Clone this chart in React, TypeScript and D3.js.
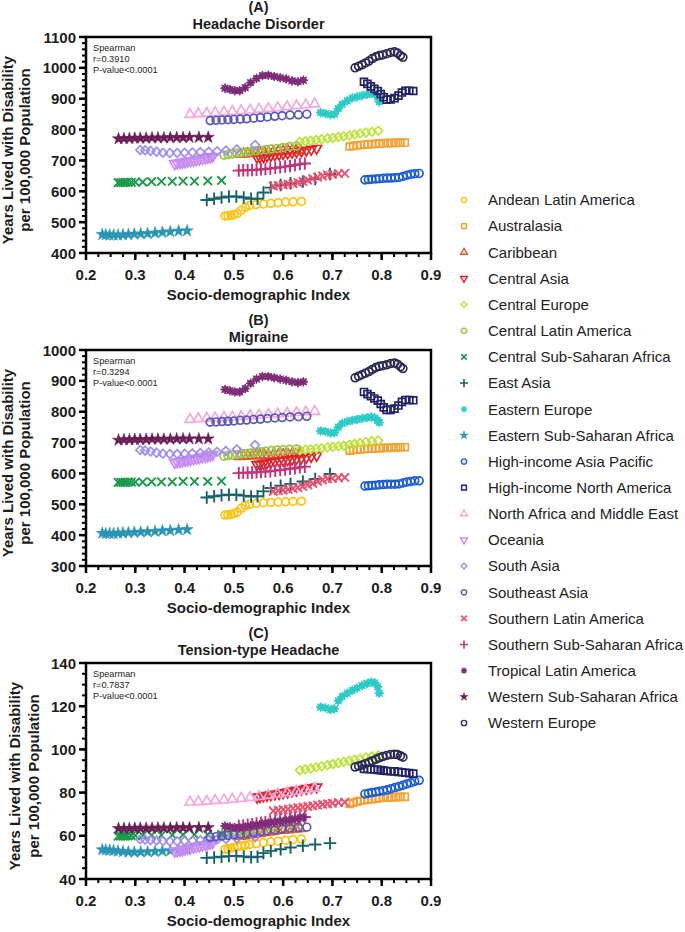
import React from "react";
import * as d3 from "d3";

// ---------- DATA ----------
const REGIONS = [
  "Andean Latin America",
  "Australasia",
  "Caribbean",
  "Central Asia",
  "Central Europe",
  "Central Latin America",
  "Central Sub-Saharan Africa",
  "East Asia",
  "Eastern Europe",
  "Eastern Sub-Saharan Africa",
  "High-income Asia Pacific",
  "High-income North America",
  "North Africa and Middle East",
  "Oceania",
  "South Asia",
  "Southeast Asia",
  "Southern Latin America",
  "Southern Sub-Saharan Africa",
  "Tropical Latin America",
  "Western Sub-Saharan Africa",
  "Western Europe",
];

// Socio-demographic index per region (1990 -> 2019, every other year)
const SDI = [
  [0.482, 0.488, 0.494, 0.5, 0.507, 0.515, 0.523, 0.532, 0.545, 0.56, 0.575, 0.59, 0.605, 0.62, 0.637],
  [0.735, 0.742, 0.75, 0.757, 0.765, 0.772, 0.78, 0.788, 0.795, 0.803, 0.812, 0.82, 0.829, 0.838, 0.847],
  [0.512, 0.52, 0.528, 0.537, 0.545, 0.553, 0.562, 0.57, 0.58, 0.59, 0.6, 0.61, 0.618, 0.626, 0.634],
  [0.547, 0.553, 0.56, 0.567, 0.575, 0.583, 0.592, 0.6, 0.609, 0.618, 0.627, 0.637, 0.647, 0.657, 0.668],
  [0.634, 0.645, 0.656, 0.667, 0.678, 0.69, 0.701, 0.712, 0.723, 0.734, 0.745, 0.756, 0.768, 0.78, 0.793],
  [0.48, 0.488, 0.497, 0.506, 0.515, 0.524, 0.534, 0.544, 0.554, 0.565, 0.576, 0.588, 0.6, 0.613, 0.627],
  [0.265, 0.27, 0.275, 0.28, 0.285, 0.292, 0.3, 0.315, 0.333, 0.353, 0.375, 0.397, 0.42, 0.447, 0.475],
  [0.445, 0.46, 0.475, 0.49, 0.505, 0.52, 0.535, 0.548, 0.56, 0.575, 0.595, 0.615, 0.64, 0.665, 0.695],
  [0.676, 0.686, 0.696, 0.704, 0.712, 0.72, 0.73, 0.74, 0.75, 0.76, 0.77, 0.779, 0.786, 0.792, 0.795],
  [0.233, 0.24, 0.248, 0.256, 0.265, 0.275, 0.286, 0.298, 0.311, 0.325, 0.34, 0.355, 0.371, 0.388, 0.405],
  [0.766, 0.773, 0.78, 0.788, 0.795, 0.803, 0.811, 0.819, 0.827, 0.835, 0.843, 0.851, 0.859, 0.867, 0.876],
  [0.764, 0.771, 0.778, 0.785, 0.792, 0.798, 0.804, 0.81, 0.818, 0.826, 0.834, 0.841, 0.848, 0.856, 0.864],
  [0.411, 0.428, 0.445, 0.462, 0.48, 0.497, 0.515, 0.533, 0.551, 0.57, 0.589, 0.608, 0.627, 0.646, 0.664],
  [0.38, 0.385, 0.391, 0.396, 0.401, 0.406, 0.412, 0.418, 0.424, 0.43, 0.436, 0.442, 0.447, 0.452, 0.457],
  [0.31, 0.32, 0.331, 0.343, 0.356, 0.37, 0.385, 0.4, 0.416, 0.432, 0.449, 0.466, 0.484, 0.506, 0.543],
  [0.452, 0.464, 0.476, 0.488, 0.5, 0.513, 0.526, 0.54, 0.554, 0.568, 0.583, 0.598, 0.614, 0.631, 0.648],
  [0.58, 0.59, 0.6, 0.61, 0.62, 0.63, 0.64, 0.65, 0.66, 0.67, 0.68, 0.69, 0.7, 0.712, 0.725],
  [0.51, 0.519, 0.528, 0.537, 0.546, 0.555, 0.564, 0.574, 0.584, 0.594, 0.604, 0.614, 0.624, 0.634, 0.644],
  [0.482, 0.492, 0.502, 0.512, 0.523, 0.534, 0.546, 0.558, 0.57, 0.582, 0.594, 0.606, 0.618, 0.63, 0.641],
  [0.266, 0.277, 0.288, 0.299, 0.31, 0.322, 0.334, 0.346, 0.358, 0.371, 0.384, 0.397, 0.41, 0.429, 0.448],
  [0.746, 0.753, 0.76, 0.767, 0.774, 0.781, 0.788, 0.795, 0.802, 0.81, 0.818, 0.826, 0.832, 0.838, 0.843],
];

// (A) Headache disorder YLD per 100,000
const HEADACHE = [
  [520, 521, 522, 524, 528, 538, 548, 554, 557, 559, 561, 563, 565, 566, 567],
  [745, 747, 749, 750, 751, 752, 753, 754, 755, 756, 756, 757, 757, 758, 758],
  [720, 721, 722, 723, 724, 725, 726, 727, 728, 729, 730, 731, 732, 733, 734],
  [710, 711, 712, 714, 716, 718, 720, 722, 724, 726, 728, 730, 733, 736, 739],
  [760, 762, 764, 766, 769, 771, 773, 776, 778, 781, 784, 787, 790, 793, 796],
  [717, 719, 721, 723, 725, 727, 729, 731, 733, 735, 737, 739, 742, 745, 747],
  [628, 628, 628, 629, 629, 629, 630, 630, 631, 632, 632, 633, 633, 634, 635],
  [572, 576, 580, 583, 583, 580, 576, 576, 596, 612, 620, 626, 632, 640, 656],
  [855, 852, 848, 850, 868, 882, 893, 902, 906, 910, 914, 917, 915, 905, 890],
  [460, 459, 458, 458, 458, 459, 460, 461, 462, 463, 465, 467, 469, 471, 472],
  [637, 638, 639, 640, 641, 642, 643, 643, 644, 645, 648, 652, 655, 657, 658],
  [955, 948, 940, 932, 925, 915, 905, 897, 898, 902, 910, 920, 926, 926, 925],
  [849, 851, 853, 855, 857, 859, 861, 863, 866, 868, 871, 874, 877, 880, 883],
  [689, 691, 692, 694, 695, 697, 699, 700, 702, 704, 706, 708, 709, 711, 713],
  [734, 733, 731, 728, 725, 724, 724, 725, 726, 727, 728, 730, 732, 736, 750],
  [829, 830, 831, 832, 833, 834, 835, 837, 839, 841, 843, 845, 847, 848, 850],
  [617, 619, 621, 623, 625, 628, 632, 636, 641, 646, 650, 653, 655, 657, 658],
  [667, 668, 668, 669, 670, 671, 672, 674, 676, 678, 680, 682, 685, 688, 690],
  [934, 930, 926, 926, 936, 952, 966, 975, 976, 972, 968, 964, 958, 955, 960],
  [770, 771, 771, 772, 772, 772, 773, 773, 773, 774, 774, 774, 775, 775, 775],
  [1000, 1005, 1010, 1016, 1022, 1030, 1036, 1040, 1042, 1046, 1050, 1052, 1048, 1040, 1034],
];

// (B) Migraine YLD per 100,000
const MIGRAINE = [
  [465, 466, 467, 470, 475, 487, 496, 500, 503, 505, 506, 507, 508, 509, 510],
  [674, 676, 677, 678, 679, 680, 680, 681, 682, 683, 683, 684, 684, 685, 685],
  [655, 656, 657, 657, 658, 658, 659, 659, 660, 660, 661, 661, 662, 662, 663],
  [628, 630, 632, 634, 636, 638, 640, 642, 644, 646, 648, 650, 652, 655, 658],
  [675, 677, 678, 680, 682, 684, 686, 688, 690, 693, 696, 699, 702, 705, 707],
  [656, 658, 659, 661, 663, 664, 666, 668, 670, 672, 674, 676, 677, 678, 679],
  [571, 571, 571, 571, 572, 572, 572, 572, 573, 573, 573, 574, 574, 574, 575],
  [522, 526, 529, 531, 531, 528, 525, 526, 542, 553, 560, 566, 574, 582, 598],
  [738, 736, 731, 732, 750, 762, 768, 772, 775, 778, 781, 783, 780, 772, 765],
  [406, 405, 405, 405, 406, 407, 408, 409, 410, 411, 412, 414, 415, 417, 418],
  [559, 560, 561, 562, 563, 564, 565, 565, 565, 566, 569, 572, 574, 576, 576],
  [864, 857, 850, 843, 836, 825, 814, 806, 806, 810, 820, 832, 838, 838, 837],
  [775, 777, 779, 780, 782, 783, 785, 787, 789, 791, 793, 795, 797, 799, 801],
  [635, 637, 638, 640, 642, 643, 645, 647, 649, 651, 653, 655, 657, 659, 661],
  [676, 674, 671, 667, 664, 663, 663, 664, 665, 666, 668, 670, 673, 678, 692],
  [766, 767, 768, 769, 770, 772, 773, 775, 776, 778, 780, 781, 783, 784, 785],
  [542, 544, 546, 548, 551, 554, 558, 563, 568, 574, 579, 582, 584, 586, 587],
  [601, 602, 602, 603, 604, 605, 606, 607, 609, 611, 613, 615, 617, 620, 622],
  [872, 868, 864, 864, 875, 892, 906, 914, 914, 910, 906, 902, 897, 894, 897],
  [708, 709, 709, 710, 710, 710, 711, 711, 711, 711, 712, 712, 712, 712, 712],
  [910, 915, 920, 925, 930, 937, 943, 947, 949, 952, 956, 958, 954, 946, 940],
];

// (C) Tension-type headache YLD per 100,000
const TENSION = [
  [53.8, 54, 54.3, 54.6, 55, 55.3, 55.6, 56, 56.4, 56.8, 57.2, 57.5, 57.9, 58.2, 58.5],
  [74.8, 75.3, 75.8, 76.2, 76.5, 76.8, 77, 77.2, 77.4, 77.6, 77.7, 77.8, 77.9, 78, 78],
  [59.8, 60, 60.3, 60.6, 60.9, 61.2, 61.5, 61.8, 62.1, 62.4, 62.6, 62.8, 63, 63.2, 63.4],
  [77.8, 78.1, 78.4, 78.7, 79, 79.3, 79.6, 79.9, 80.3, 80.7, 81.1, 81.5, 81.9, 82.3, 82.6],
  [90.3, 90.8, 91.2, 91.7, 92.2, 92.7, 93.2, 93.7, 94.2, 94.7, 95.2, 95.7, 96.2, 96.7, 97.2],
  [60.8, 61.1, 61.4, 61.8, 62.1, 62.5, 62.9, 63.2, 63.6, 64, 64.4, 64.8, 65.2, 65.5, 65.8],
  [59.8, 59.8, 59.9, 59.9, 60, 60, 60.1, 60.2, 60.3, 60.3, 60.4, 60.5, 60.5, 60.6, 60.6],
  [49.8, 50, 50.3, 50.6, 50.7, 50.4, 50.1, 50.3, 52, 53, 53.8, 54.6, 55.4, 56, 56.6],
  [119.6, 119.2, 118.4, 118.8, 122.5, 124.5, 126, 127.3, 128.4, 129.5, 130.5, 131.2, 130.8, 129, 126],
  [53.5, 53.4, 53.3, 53.1, 52.9, 52.7, 52.5, 52.4, 52.5, 52.6, 52.7, 52.9, 53.1, 53.3, 53.5],
  [79.4, 79.7, 80, 80.3, 80.6, 80.9, 81.3, 81.8, 82.3, 82.8, 83.4, 84, 84.6, 85.2, 85.7],
  [91, 90.9, 90.8, 90.7, 90.5, 90.4, 90.2, 90, 89.9, 89.8, 89.6, 89.4, 89.2, 89, 88.8],
  [75.6, 75.8, 76, 76.3, 76.6, 76.9, 77.3, 77.7, 78.2, 78.7, 79.3, 79.9, 80.6, 81.3, 82],
  [52.8, 53, 53.2, 53.5, 53.8, 54.1, 54.4, 54.7, 55, 55.3, 55.6, 55.9, 56.2, 56.5, 56.8],
  [58.4, 58.2, 58, 57.8, 57.6, 57.5, 57.5, 57.6, 57.7, 57.9, 58.1, 58.3, 58.5, 58.8, 59.3],
  [59.3, 59.6, 59.9, 60.2, 60.5, 60.8, 61.1, 61.5, 61.9, 62.3, 62.7, 63.1, 63.5, 63.8, 64],
  [71.5, 71.8, 72.1, 72.4, 72.7, 73, 73.3, 73.6, 73.9, 74.2, 74.5, 74.8, 75.1, 75.4, 75.6],
  [64.5, 64.8, 65.1, 65.4, 65.7, 66, 66.3, 66.6, 66.9, 67.2, 67.5, 67.8, 68.1, 68.4, 68.7],
  [64.5, 64.1, 63.8, 63.8, 64.1, 64.6, 65.1, 65.6, 66, 66.4, 66.8, 67.2, 67.6, 68, 68.5],
  [63.4, 63.4, 63.4, 63.5, 63.5, 63.5, 63.5, 63.6, 63.6, 63.6, 63.7, 63.7, 63.7, 63.8, 63.8],
  [91.8, 92.3, 92.8, 93.4, 94, 94.7, 95.4, 96.1, 96.7, 97.2, 97.6, 97.8, 97.6, 97, 96.4],
];

const PANEL_TAGS = ["(A)", "(B)", "(C)"];
const PANEL_TITLES = ["Headache Disorder", "Migraine", "Tension-type Headache"];
const SPEARMAN_R = ["r=0.3910", "r=0.3294", "r=0.7837"];
const P_VALUES = ["P-value<0.0001", "P-value<0.0001", "P-value<0.0001"];
const Y_DOMAINS = [[400, 1100], [300, 1000], [40, 140]];
const Y_MAJOR_STEPS = [100, 100, 20];
const Y_MINOR_STEPS = [20, 20, 5];
const X_TICKS = [0.2, 0.3, 0.4, 0.5, 0.6, 0.7, 0.8, 0.9];

// ---------- STYLE ----------
const COLORS = [
  "#FFC20E", "#F5A030", "#E8572A", "#E0242A", "#BDE23A", "#9CC34A", "#1A9A4A",
  "#17616A", "#2BCBC6", "#2A95B5", "#1A5CD8", "#22226A", "#F5A8DC", "#C98AF0",
  "#A08CF5", "#5858BE", "#E8506E", "#C0357A", "#7E2C78", "#6B1E55", "#2A2A55",
];
const SHAPES = [
  "circle", "square", "triangle", "triangleDown", "diamond", "circle", "times",
  "plus", "asterisk", "star", "circle", "square", "triangle", "triangleDown",
  "diamond", "circle", "times", "plus", "asterisk", "star", "circle",
];

const FONT = "Arial, 'Liberation Sans', Helvetica, sans-serif";
const TEXT = "#1d1d1b";
const X_RANGE = [86, 431];
const PANEL_TOPS = [37, 350, 663];
const PANEL_H = 216;

const burst = {
  draw(ctx: any, size: number) {
    const r = Math.sqrt(size) * 0.62;
    const n = 8;
    for (let i = 0; i < n * 2; i++) {
      const a = (Math.PI * i) / n - Math.PI / 2;
      const rr = i % 2 === 0 ? r : r * 0.55;
      const px = Math.cos(a) * rr;
      const py = Math.sin(a) * rr;
      if (i === 0) ctx.moveTo(px, py);
      else ctx.lineTo(px, py);
    }
    ctx.closePath();
  },
};

function markerPath(shape: string, size: number): { d: string; filled: boolean; rot: number; sw: number } {
  const sym = d3.symbol();
  switch (shape) {
    case "circle":
      return { d: sym.type(d3.symbolCircle).size(size)()!, filled: false, rot: 0, sw: 1.7 };
    case "square":
      return { d: sym.type(d3.symbolSquare).size(size)()!, filled: false, rot: 0, sw: 1.7 };
    case "triangle":
      return { d: sym.type(d3.symbolTriangle).size(size * 0.9)()!, filled: false, rot: 0, sw: 1.7 };
    case "triangleDown":
      return { d: sym.type(d3.symbolTriangle).size(size * 0.9)()!, filled: false, rot: 180, sw: 1.7 };
    case "diamond":
      return { d: sym.type(d3.symbolDiamond2).size(size)()!, filled: false, rot: 0, sw: 1.7 };
    case "times":
      return { d: sym.type(d3.symbolTimes).size(size)()!, filled: false, rot: 0, sw: 1.9 };
    case "plus":
      return { d: sym.type(d3.symbolPlus).size(size * 1.1)()!, filled: false, rot: 0, sw: 1.9 };
    case "asterisk":
      return { d: sym.type(burst as any).size(size * 1.15)()!, filled: true, rot: 0, sw: 0.9 };
    case "star":
      return { d: sym.type(d3.symbolStar).size(size * 0.95)()!, filled: true, rot: 0, sw: 0.6 };
  }
  return { d: sym.type(d3.symbolCircle).size(size)()!, filled: false, rot: 0, sw: 1.7 };
}

function Marker({ shape, color, x, y, size, scale = 1 }: any) {
  const m = markerPath(shape, size);
  return (
    <path
      d={m.d}
      transform={`translate(${x},${y}) rotate(${m.rot})`}
      fill={m.filled ? color : "none"}
      stroke={color}
      strokeWidth={m.sw * scale}
      strokeLinejoin="miter"
    />
  );
}

function Panel({ idx }: { idx: number }) {
  const top = PANEL_TOPS[idx];
  const bottom = top + PANEL_H;
  const x = d3.scaleLinear().domain([0.2, 0.9]).range(X_RANGE);
  const y = d3.scaleLinear().domain(Y_DOMAINS[idx]).range([bottom, top]);
  const values = [HEADACHE, MIGRAINE, TENSION][idx];
  const [y0, y1] = Y_DOMAINS[idx];
  const yMajor = d3.range(y0, y1 + 0.001, Y_MAJOR_STEPS[idx]);
  const yMinor = d3.range(y0, y1 + 0.001, Y_MINOR_STEPS[idx]);
  const xMinor = d3.range(0.2, 0.9001, 0.025);
  const cx = (X_RANGE[0] + X_RANGE[1]) / 2;
  const cy = (top + bottom) / 2 + 5;
  const yl1 = idx === 2 ? 20 : 12.5;
  const yl2 = idx === 2 ? 39 : 30;

  return (
    <g>
      <text x={cx} y={top - 25.5} textAnchor="middle" fontSize={14.5} fontWeight="bold" fill={TEXT}>
        {PANEL_TAGS[idx]}
      </text>
      <text x={cx} y={top - 8} textAnchor="middle" fontSize={14.5} fontWeight="bold" fill={TEXT}>
        {PANEL_TITLES[idx]}
      </text>

      {/* data */}
      {REGIONS.map((name, r) =>
        SDI[r].map((s, i) => (
          <Marker key={`${name}-${i}`} shape={SHAPES[r]} color={COLORS[r]} x={x(s)} y={y(values[r][i])} size={48} />
        ))
      )}

      {/* frame */}
      <rect x={X_RANGE[0]} y={top} width={X_RANGE[1] - X_RANGE[0]} height={PANEL_H} fill="none" stroke="#000" strokeWidth={2.5} />

      {/* y ticks */}
      {yMinor.map((v) => (
        <line key={`ym${v}`} x1={X_RANGE[0]} x2={X_RANGE[0] - 4} y1={y(v)} y2={y(v)} stroke="#000" strokeWidth={2} />
      ))}
      {yMajor.map((v) => (
        <g key={`yM${v}`}>
          <line x1={X_RANGE[0]} x2={X_RANGE[0] - 7} y1={y(v)} y2={y(v)} stroke="#000" strokeWidth={2.5} />
          <text x={X_RANGE[0] - 10} y={y(v) + 5.5} textAnchor="end" fontSize={15} fontWeight="bold" fill={TEXT}>
            {v}
          </text>
        </g>
      ))}

      {/* x ticks */}
      {xMinor.map((v) => (
        <line key={`xm${v}`} x1={x(v)} x2={x(v)} y1={bottom} y2={bottom + 4} stroke="#000" strokeWidth={2} />
      ))}
      {X_TICKS.map((v) => (
        <g key={`xM${v}`}>
          <line x1={x(v)} x2={x(v)} y1={bottom} y2={bottom + 7} stroke="#000" strokeWidth={2.5} />
          <text x={x(v)} y={bottom + 27} textAnchor="middle" fontSize={15} fontWeight="bold" fill={TEXT}>
            {d3.format(".1f")(v)}
          </text>
        </g>
      ))}

      <text x={cx} y={bottom + 47} textAnchor="middle" fontSize={15} fontWeight="bold" fill={TEXT}>
        Socio-demographic Index
      </text>

      <g transform={`translate(${yl1},${cy}) rotate(-90)`}>
        <text textAnchor="middle" fontSize={15} fontWeight="bold" fill={TEXT}>
          Years Lived with Disability
        </text>
      </g>
      <g transform={`translate(${yl2},${cy}) rotate(-90)`}>
        <text textAnchor="middle" fontSize={15} fontWeight="bold" fill={TEXT}>
          per 100,000 Population
        </text>
      </g>

      <g fontSize={9.2} fill={TEXT}>
        <text x={93} y={top + 14}>Spearman</text>
        <text x={93} y={top + 25}>{SPEARMAN_R[idx]}</text>
        <text x={93} y={top + 36}>{P_VALUES[idx]}</text>
      </g>
    </g>
  );
}

function Legend() {
  const y0 = 200;
  const step = 26.15;
  return (
    <g>
      {REGIONS.map((name, r) => (
        <g key={name}>
          <Marker shape={SHAPES[r]} color={COLORS[r]} x={464} y={y0 + r * step} size={22} scale={0.85} />
          <text x={488} y={y0 + r * step + 5.3} fontSize={15} fill="#222">
            {name}
          </text>
        </g>
      ))}
    </g>
  );
}

export default function App() {
  return (
    <svg
      width={685}
      height={932}
      viewBox="0 0 685 932"
      style={{ position: "absolute", left: 0, top: 0, background: "#fff", display: "block" }}
      fontFamily={FONT}
    >
      <rect x={0} y={0} width={685} height={932} fill="#fff" />
      <Panel idx={0} />
      <Panel idx={1} />
      <Panel idx={2} />
      <Legend />
    </svg>
  );
}
